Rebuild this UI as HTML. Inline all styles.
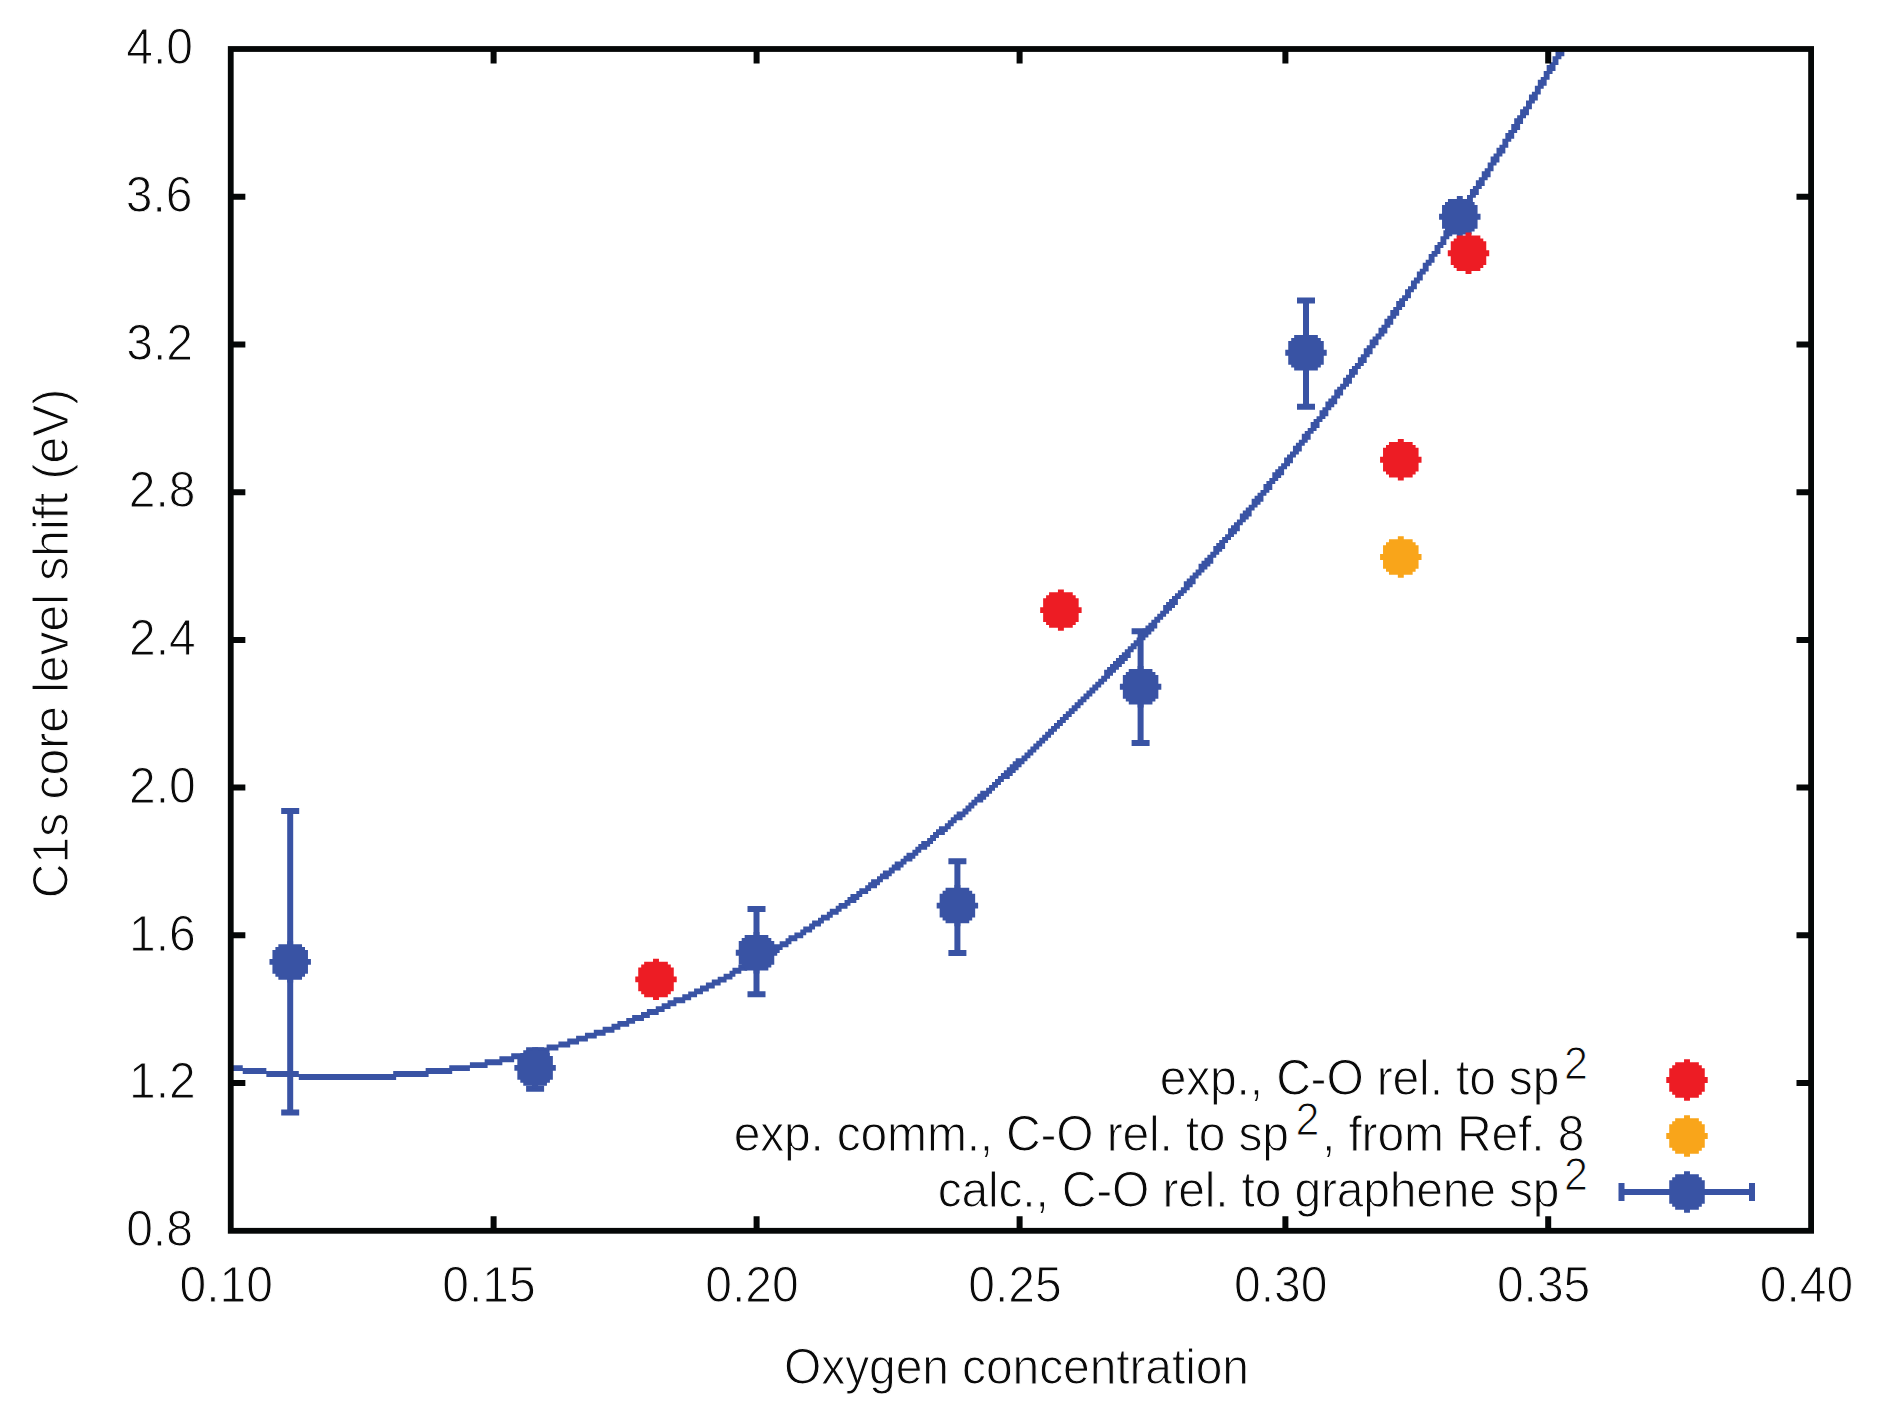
<!DOCTYPE html>
<html lang="en"><head><meta charset="utf-8"><title>C1s core level shift vs oxygen concentration</title>
<style>
html,body{margin:0;padding:0;background:#fff;}
body{width:1878px;height:1418px;overflow:hidden;}
svg{display:block;}
text{font-family:"Liberation Sans",sans-serif;font-size:48px;fill:#0a0a0a;stroke:#fff;stroke-width:1.0px;paint-order:fill stroke;}
.sup{font-size:43px;}
</style></head><body>
<svg width="1878" height="1418" viewBox="0 0 1878 1418">
<rect x="0" y="0" width="1878" height="1418" fill="#ffffff"/>
<defs>
<clipPath id="pc"><rect x="230.75" y="49.0" width="1580.35" height="1181.8"/></clipPath>

<path id="dot" d="M2.96,-20.72 L2.96,-17.76 L11.84,-17.76 L11.84,-14.80 L14.80,-14.80 L14.80,-11.84 L17.76,-11.84 L17.76,-2.96 L20.72,-2.96 L20.72,2.96 L17.76,2.96 L17.76,11.84 L14.80,11.84 L14.80,14.80 L11.84,14.80 L11.84,17.76 L2.96,17.76 L2.96,20.72 L-2.96,20.72 L-2.96,17.76 L-11.84,17.76 L-11.84,14.80 L-14.80,14.80 L-14.80,11.84 L-17.76,11.84 L-17.76,2.96 L-20.72,2.96 L-20.72,-2.96 L-17.76,-2.96 L-17.76,-11.84 L-14.80,-11.84 L-14.80,-14.80 L-11.84,-14.80 L-11.84,-17.76 L-2.96,-17.76 L-2.96,-20.72Z"/>
<clipPath id="pc2"><rect x="0.9322033898305084" y="52.54237288135593" width="535.7118644067796" height="400.61016949152537"/></clipPath>
</defs>
<path d="M454,46h1v1h-1zM454,47h1v1h-1zM453,48h2v1h-2zM453,49h2v1h-2zM452,50h3v1h-3zM452,51h2v1h-2zM451,52h3v1h-3zM450,53h3v1h-3zM450,54h3v1h-3zM449,55h3v1h-3zM449,56h2v1h-2zM448,57h3v1h-3zM447,58h3v1h-3zM447,59h3v1h-3zM446,60h3v1h-3zM446,61h2v1h-2zM445,62h3v1h-3zM444,63h3v1h-3zM444,64h3v1h-3zM443,65h3v1h-3zM443,66h2v1h-2zM442,67h3v1h-3zM441,68h3v1h-3zM441,69h3v1h-3zM440,70h3v1h-3zM440,71h2v1h-2zM439,72h3v1h-3zM438,73h3v1h-3zM438,74h3v1h-3zM437,75h3v1h-3zM436,76h3v1h-3zM436,77h3v1h-3zM435,78h3v1h-3zM435,79h3v1h-3zM434,80h3v1h-3zM433,81h3v1h-3zM433,82h3v1h-3zM432,83h3v1h-3zM432,84h2v1h-2zM431,85h3v1h-3zM430,86h3v1h-3zM430,87h3v1h-3zM429,88h3v1h-3zM428,89h3v1h-3zM428,90h3v1h-3zM427,91h3v1h-3zM427,92h2v1h-2zM426,93h3v1h-3zM425,94h3v1h-3zM425,95h3v1h-3zM424,96h3v1h-3zM423,97h3v1h-3zM423,98h3v1h-3zM422,99h3v1h-3zM421,100h3v1h-3zM421,101h3v1h-3zM420,102h3v1h-3zM420,103h2v1h-2zM419,104h3v1h-3zM418,105h3v1h-3zM418,106h3v1h-3zM417,107h3v1h-3zM416,108h3v1h-3zM416,109h3v1h-3zM415,110h3v1h-3zM414,111h3v1h-3zM414,112h3v1h-3zM413,113h3v1h-3zM412,114h3v1h-3zM412,115h3v1h-3zM411,116h3v1h-3zM411,117h2v1h-2zM410,118h3v1h-3zM409,119h3v1h-3zM409,120h2v1h-2zM408,121h3v1h-3zM407,122h3v1h-3zM407,123h2v1h-2zM406,124h3v1h-3zM405,125h3v1h-3zM405,126h2v1h-2zM404,127h3v1h-3zM403,128h3v1h-3zM403,129h2v1h-2zM402,130h3v1h-3zM401,131h3v1h-3zM401,132h2v1h-2zM400,133h3v1h-3zM399,134h3v1h-3zM399,135h2v1h-2zM398,136h3v1h-3zM397,137h3v1h-3zM396,138h3v1h-3zM396,139h3v1h-3zM395,140h3v1h-3zM394,141h3v1h-3zM394,142h3v1h-3zM393,143h3v1h-3zM392,144h3v1h-3zM392,145h3v1h-3zM391,146h3v1h-3zM390,147h3v1h-3zM390,148h3v1h-3zM389,149h3v1h-3zM388,150h3v1h-3zM387,151h3v1h-3zM387,152h3v1h-3zM386,153h3v1h-3zM385,154h3v1h-3zM385,155h3v1h-3zM384,156h3v1h-3zM383,157h3v1h-3zM383,158h3v1h-3zM382,159h3v1h-3zM381,160h3v1h-3zM380,161h3v1h-3zM380,162h3v1h-3zM379,163h3v1h-3zM378,164h3v1h-3zM378,165h3v1h-3zM377,166h3v1h-3zM376,167h3v1h-3zM375,168h3v1h-3zM375,169h3v1h-3zM374,170h3v1h-3zM373,171h3v1h-3zM372,172h4v1h-4zM372,173h3v1h-3zM371,174h3v1h-3zM370,175h3v1h-3zM370,176h3v1h-3zM369,177h3v1h-3zM368,178h3v1h-3zM367,179h3v1h-3zM367,180h3v1h-3zM366,181h3v1h-3zM365,182h3v1h-3zM364,183h3v1h-3zM364,184h3v1h-3zM363,185h3v1h-3zM362,186h3v1h-3zM361,187h3v1h-3zM361,188h3v1h-3zM360,189h3v1h-3zM359,190h3v1h-3zM358,191h3v1h-3zM358,192h3v1h-3zM357,193h3v1h-3zM356,194h3v1h-3zM355,195h3v1h-3zM354,196h4v1h-4zM354,197h3v1h-3zM353,198h3v1h-3zM352,199h3v1h-3zM351,200h3v1h-3zM351,201h3v1h-3zM350,202h3v1h-3zM349,203h3v1h-3zM348,204h3v1h-3zM347,205h4v1h-4zM347,206h3v1h-3zM346,207h3v1h-3zM345,208h3v1h-3zM344,209h3v1h-3zM343,210h4v1h-4zM343,211h3v1h-3zM342,212h3v1h-3zM341,213h3v1h-3zM340,214h3v1h-3zM339,215h4v1h-4zM339,216h3v1h-3zM338,217h3v1h-3zM337,218h3v1h-3zM336,219h3v1h-3zM335,220h3v1h-3zM334,221h4v1h-4zM334,222h3v1h-3zM333,223h3v1h-3zM332,224h3v1h-3zM331,225h3v1h-3zM330,226h4v1h-4zM329,227h4v1h-4zM329,228h3v1h-3zM328,229h3v1h-3zM327,230h3v1h-3zM326,231h3v1h-3zM325,232h3v1h-3zM324,233h4v1h-4zM324,234h3v1h-3zM323,235h3v1h-3zM322,236h3v1h-3zM321,237h3v1h-3zM320,238h3v1h-3zM319,239h3v1h-3zM318,240h4v1h-4zM317,241h4v1h-4zM317,242h3v1h-3zM316,243h3v1h-3zM315,244h3v1h-3zM314,245h3v1h-3zM313,246h3v1h-3zM312,247h3v1h-3zM311,248h4v1h-4zM310,249h4v1h-4zM309,250h4v1h-4zM309,251h3v1h-3zM308,252h3v1h-3zM307,253h3v1h-3zM306,254h3v1h-3zM305,255h3v1h-3zM304,256h3v1h-3zM303,257h3v1h-3zM302,258h4v1h-4zM301,259h4v1h-4zM300,260h4v1h-4zM299,261h4v1h-4zM298,262h4v1h-4zM297,263h4v1h-4zM297,264h3v1h-3zM296,265h3v1h-3zM295,266h3v1h-3zM294,267h3v1h-3zM293,268h3v1h-3zM292,269h3v1h-3zM291,270h3v1h-3zM290,271h3v1h-3zM289,272h3v1h-3zM288,273h3v1h-3zM287,274h3v1h-3zM286,275h3v1h-3zM285,276h3v1h-3zM284,277h3v1h-3zM283,278h3v1h-3zM282,279h3v1h-3zM281,280h3v1h-3zM280,281h3v1h-3zM279,282h3v1h-3zM278,283h3v1h-3zM277,284h3v1h-3zM276,285h3v1h-3zM275,286h3v1h-3zM274,287h3v1h-3zM273,288h3v1h-3zM272,289h3v1h-3zM271,290h3v1h-3zM270,291h3v1h-3zM269,292h3v1h-3zM267,293h4v1h-4zM266,294h4v1h-4zM265,295h4v1h-4zM264,296h4v1h-4zM263,297h4v1h-4zM262,298h4v1h-4zM261,299h4v1h-4zM260,300h3v1h-3zM259,301h3v1h-3zM258,302h3v1h-3zM257,303h3v1h-3zM255,304h4v1h-4zM254,305h4v1h-4zM253,306h4v1h-4zM252,307h4v1h-4zM251,308h3v1h-3zM250,309h3v1h-3zM249,310h3v1h-3zM247,311h4v1h-4zM246,312h4v1h-4zM245,313h4v1h-4zM244,314h3v1h-3zM243,315h3v1h-3zM241,316h4v1h-4zM240,317h4v1h-4zM239,318h4v1h-4zM238,319h3v1h-3zM237,320h3v1h-3zM235,321h4v1h-4zM234,322h4v1h-4zM233,323h4v1h-4zM232,324h3v1h-3zM230,325h4v1h-4zM229,326h4v1h-4zM228,327h4v1h-4zM226,328h4v1h-4zM225,329h4v1h-4zM224,330h4v1h-4zM222,331h4v1h-4zM221,332h4v1h-4zM220,333h4v1h-4zM218,334h4v1h-4zM217,335h4v1h-4zM216,336h4v1h-4zM214,337h4v1h-4zM213,338h4v1h-4zM211,339h4v1h-4zM210,340h4v1h-4zM209,341h4v1h-4zM207,342h4v1h-4zM206,343h4v1h-4zM204,344h4v1h-4zM203,345h4v1h-4zM201,346h4v1h-4zM200,347h4v1h-4zM198,348h4v1h-4zM197,349h4v1h-4zM195,350h4v1h-4zM194,351h4v1h-4zM192,352h4v1h-4zM190,353h5v1h-5zM189,354h4v1h-4zM187,355h4v1h-4zM185,356h5v1h-5zM184,357h4v1h-4zM182,358h5v1h-5zM180,359h5v1h-5zM179,360h4v1h-4zM177,361h4v1h-4zM175,362h5v1h-5zM173,363h5v1h-5zM171,364h5v1h-5zM170,365h4v1h-4zM168,366h4v1h-4zM166,367h5v1h-5zM164,368h5v1h-5zM162,369h5v1h-5zM160,370h5v1h-5zM158,371h5v1h-5zM156,372h5v1h-5zM154,373h5v1h-5zM151,374h6v1h-6zM149,375h6v1h-6zM147,376h5v1h-5zM145,377h5v1h-5zM142,378h6v1h-6zM140,379h6v1h-6zM137,380h6v1h-6zM135,381h6v1h-6zM132,382h6v1h-6zM130,383h6v1h-6zM127,384h6v1h-6zM124,385h7v1h-7zM121,386h7v1h-7zM118,387h7v1h-7zM115,388h7v1h-7zM112,389h7v1h-7zM108,390h8v1h-8zM104,391h8v1h-8zM101,392h8v1h-8zM96,393h9v1h-9zM92,394h9v1h-9zM87,395h10v1h-10zM82,396h11v1h-11zM0,397h5v1h-5zM75,397h13v1h-13zM0,398h13v1h-13zM67,398h15v1h-15zM5,399h19v1h-19zM56,399h20v1h-20zM13,400h55v1h-55zM24,401h33v1h-33z" transform="translate(228.0,-106.00) scale(2.95)" fill="#3953a4" clip-path="url(#pc2)"/>
<path d="M290.2,811 V1112.5 M281.2,811 H299.2 M281.2,1112.5 H299.2" stroke="#3953a4" stroke-width="6" fill="none"/>
<use href="#dot" x="290.2" y="961.9" fill="#3953a4"/>
<path d="M535.1,1050.2 V1088.8 M526.1,1050.2 H544.1 M526.1,1088.8 H544.1" stroke="#3953a4" stroke-width="6" fill="none"/>
<use href="#dot" x="535.1" y="1067.9" fill="#3953a4"/>
<path d="M756.5,909 V994.3 M747.5,909 H765.5 M747.5,994.3 H765.5" stroke="#3953a4" stroke-width="6" fill="none"/>
<use href="#dot" x="756.5" y="952.8" fill="#3953a4"/>
<path d="M957.4,861.2 V953 M948.4,861.2 H966.4 M948.4,953 H966.4" stroke="#3953a4" stroke-width="6" fill="none"/>
<use href="#dot" x="957.4" y="905.6" fill="#3953a4"/>
<path d="M1140.6,631.2 V743 M1131.6,631.2 H1149.6 M1131.6,743 H1149.6" stroke="#3953a4" stroke-width="6" fill="none"/>
<use href="#dot" x="1140.6" y="686.8" fill="#3953a4"/>
<path d="M1306,300.5 V406.8 M1297,300.5 H1315 M1297,406.8 H1315" stroke="#3953a4" stroke-width="6" fill="none"/>
<use href="#dot" x="1306" y="352.8" fill="#3953a4"/>
<use href="#dot" x="1459.8" y="216.8" fill="#3953a4"/>
<use href="#dot" x="656" y="979.4" fill="#ed1c24"/>
<use href="#dot" x="1060.9" y="610.1" fill="#ed1c24"/>
<use href="#dot" x="1400.8" y="459.7" fill="#ed1c24"/>
<use href="#dot" x="1468.5" y="253.2" fill="#ed1c24"/>
<use href="#dot" x="1400.8" y="557" fill="#f9a51a"/>
<use href="#dot" x="1687" y="1080" fill="#ed1c24"/>
<use href="#dot" x="1687" y="1136" fill="#f9a51a"/>
<path d="M1621.5,1192 H1752 M1621.5,1183 V1201 M1752,1183 V1201" stroke="#3953a4" stroke-width="6" fill="none"/>
<use href="#dot" x="1687" y="1192" fill="#3953a4"/>
<path d="M493.6,1230.8 V1216.2 M493.6,49.0 V63.6 M756.6,1230.8 V1216.2 M756.6,49.0 V63.6 M1019.6,1230.8 V1216.2 M1019.6,49.0 V63.6 M1285.4,1230.8 V1216.2 M1285.4,49.0 V63.6 M1548.2,1230.8 V1216.2 M1548.2,49.0 V63.6 M230.75,196.7 H245.35 M1811.1,196.7 H1796.5 M230.75,344.4 H245.35 M1811.1,344.4 H1796.5 M230.75,492.2 H245.35 M1811.1,492.2 H1796.5 M230.75,639.9 H245.35 M1811.1,639.9 H1796.5 M230.75,787.6 H245.35 M1811.1,787.6 H1796.5 M230.75,935.3 H245.35 M1811.1,935.3 H1796.5 M230.75,1083.1 H245.35 M1811.1,1083.1 H1796.5" stroke="#050707" stroke-width="6" fill="none"/>
<rect x="230.75" y="49.0" width="1580.35" height="1181.8" fill="none" stroke="#050707" stroke-width="5.8"/>
<text transform="translate(193.0,64.2) scale(1,1.06)" text-anchor="end">4.0</text>
<text transform="translate(192.5,211.9) scale(1,1.06)" text-anchor="end">3.6</text>
<text transform="translate(193.0,359.6) scale(1,1.06)" text-anchor="end">3.2</text>
<text transform="translate(195.5,507.4) scale(1,1.06)" text-anchor="end">2.8</text>
<text transform="translate(195.7,655.1) scale(1,1.06)" text-anchor="end">2.4</text>
<text transform="translate(195.7,802.8) scale(1,1.06)" text-anchor="end">2.0</text>
<text transform="translate(195.7,950.5) scale(1,1.06)" text-anchor="end">1.6</text>
<text transform="translate(195.7,1098.3) scale(1,1.06)" text-anchor="end">1.2</text>
<text transform="translate(192.9,1246.0) scale(1,1.06)" text-anchor="end">0.8</text>
<text transform="translate(226.2,1302.0) scale(1,1.06)" text-anchor="middle">0.10</text>
<text transform="translate(489.0,1302.0) scale(1,1.06)" text-anchor="middle">0.15</text>
<text transform="translate(752.0,1302.0) scale(1,1.06)" text-anchor="middle">0.20</text>
<text transform="translate(1015.0,1302.0) scale(1,1.06)" text-anchor="middle">0.25</text>
<text transform="translate(1280.8,1302.0) scale(1,1.06)" text-anchor="middle">0.30</text>
<text transform="translate(1543.6,1302.0) scale(1,1.06)" text-anchor="middle">0.35</text>
<text transform="translate(1806.5,1302.0) scale(1,1.06)" text-anchor="middle">0.40</text>
<text transform="translate(1016.5,1384.0) scale(1,1.06)" text-anchor="middle" letter-spacing="-0.1">Oxygen concentration</text>
<text transform="translate(68.2,643.5) rotate(-90) scale(1,1.06)" text-anchor="middle" stroke-width="0.5">C1s core level shift (eV)</text>
<text transform="translate(0,1095) scale(1,1.06)" text-anchor="start"><tspan x="1159.7" y="0" textLength="399.7" lengthAdjust="spacing">exp., C-O rel. to sp</tspan><tspan class="sup" x="1564.0" y="-15.5">2</tspan></text>
<text transform="translate(0,1151) scale(1,1.06)" text-anchor="start"><tspan x="733.7" y="0" textLength="555.3" lengthAdjust="spacing">exp. comm., C-O rel. to sp</tspan><tspan class="sup" x="1295.5" y="-15.5">2</tspan><tspan x="1322.0" y="0" textLength="262.5" lengthAdjust="spacing">, from Ref. 8</tspan></text>
<text transform="translate(0,1206.8) scale(1,1.06)" text-anchor="start"><tspan x="937.7" y="0" textLength="621.8" lengthAdjust="spacing">calc., C-O rel. to graphene sp</tspan><tspan class="sup" x="1564.0" y="-15.5">2</tspan></text>
</svg></body></html>
